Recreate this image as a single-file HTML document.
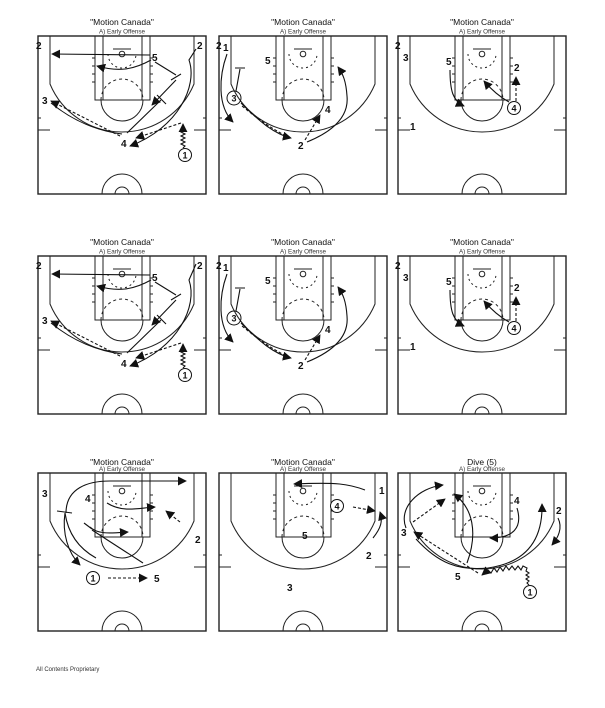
<!DOCTYPE html>
<html><head><meta charset="utf-8">
<style>
html,body{margin:0;padding:0;background:#fff;}
svg{display:block;}
.t{font-family:"Liberation Sans",sans-serif;font-size:8.5px;text-anchor:middle;fill:#111;}
.s{font-family:"Liberation Sans",sans-serif;font-size:6.3px;text-anchor:middle;fill:#333;}
.n{font-family:"Liberation Sans",sans-serif;font-size:10px;font-weight:bold;fill:#111;}
.c{font-family:"Liberation Sans",sans-serif;font-size:9px;font-weight:bold;fill:#111;text-anchor:middle;}
.p{fill:none;stroke:#111;stroke-width:1.1;}
.d{fill:none;stroke:#111;stroke-width:1.1;stroke-dasharray:3,2;}
</style></head><body>
<svg width="605" height="708" viewBox="0 0 605 708" xmlns="http://www.w3.org/2000/svg">
<defs>
<marker id="a" viewBox="0 0 10 10" refX="9" refY="5" markerWidth="9" markerHeight="9" markerUnits="userSpaceOnUse" orient="auto"><path d="M0,0 L10,5 L0,10 z" fill="#111"/></marker>
<g id="court" fill="none" stroke="#222" stroke-width="1">
<rect x="0" y="0" width="168" height="158" stroke-width="1.4"/>
<path d="M12,0 L12,48 A78,78 0 0 0 156,48 L156,0"/>
<rect x="57" y="0" width="55" height="64"/>
<path d="M65,0 L65,64 M104,0 L104,64"/>
<path d="M63,64 A21,21 0 0 0 105,64"/>
<path d="M63,64 A21,21 0 0 1 105,64" stroke-dasharray="3,3"/>
<path d="M75,13 L93,13"/>
<circle cx="84" cy="18" r="2.8"/>
<path d="M70,18 A14,14 0 0 0 98,18" stroke-dasharray="2,3"/>
<path d="M54,22 L57,22 M54,30 L57,30 M54,38 L57,38 M54,46 L57,46 M112,22 L115,22 M112,30 L115,30 M112,38 L115,38 M112,46 L115,46"/>
<path d="M0,94 L12,94 M156,94 L168,94 M0,82 L3,82 M165,82 L168,82"/>
<path d="M64,158 A20,20 0 0 1 104,158"/>
<path d="M77,158 A7,7 0 0 1 91,158"/>
</g>
</defs>

<!-- Titles -->
<text class="t" x="122" y="25">"Motion Canada"</text><text class="s" x="122" y="33.5">A) Early Offense</text>
<text class="t" x="303" y="25">"Motion Canada"</text><text class="s" x="303" y="33.5">A) Early Offense</text>
<text class="t" x="482" y="25">"Motion Canada"</text><text class="s" x="482" y="33.5">A) Early Offense</text>
<text class="t" x="122" y="245">"Motion Canada"</text><text class="s" x="122" y="253.5">A) Early Offense</text>
<text class="t" x="303" y="245">"Motion Canada"</text><text class="s" x="303" y="253.5">A) Early Offense</text>
<text class="t" x="482" y="245">"Motion Canada"</text><text class="s" x="482" y="253.5">A) Early Offense</text>
<text class="t" x="122" y="465">"Motion Canada"</text><text class="s" x="122" y="471">A) Early Offense</text>
<text class="t" x="303" y="465">"Motion Canada"</text><text class="s" x="303" y="471">A) Early Offense</text>
<text class="t" x="482" y="465">Dive (5)</text><text class="s" x="482" y="471">A) Early Offense</text>

<!-- Court 1 (row 1) -->
<g transform="translate(38,36)">
<use href="#court"/>
<path class="p" d="M112,19 L14,18" marker-end="url(#a)"/>
<path class="p" d="M113,24 C95,34 80,36 59,30" marker-end="url(#a)"/>
<path class="p" d="M158,13 L151,24 C160,50 140,92 92,110" marker-end="url(#a)"/>
<path class="p" d="M117,26 L138,39 M133,44 L143,38"/>
<path class="p" d="M138,44 L114,69" marker-end="url(#a)"/>
<path class="p" d="M89,97 L123,64 M119,59 L128,68"/>
<path class="d" d="M143,87 L98,102" marker-end="url(#a)"/>
<path class="d" d="M82,100 L13,65" marker-end="url(#a)"/>
<path class="p" d="M13,67 C35,85 60,95 84,98"/>
<polyline class="p" points="145,112 147,110 143,108 147,106 143,104 147,102 143,100 147,98 143,96 145,94 145,88" marker-end="url(#a)"/>
<text class="n" x="-2" y="13">2</text><text class="n" x="159" y="13">2</text>
<text class="n" x="114" y="25">5</text><text class="n" x="4" y="68">3</text><text class="n" x="83" y="111">4</text>
<circle cx="147" cy="119" r="6.5" fill="#fff" stroke="#111"/><text class="c" x="147" y="122.5">1</text>
</g>

<!-- Court 2 (row 1) -->
<g transform="translate(219,36)">
<use href="#court"/>
<path class="p" d="M8,18 C0,40 -2,70 14,86" marker-end="url(#a)"/>
<path class="p" d="M17,55 L21,33 M16,32 L26,32"/>
<path class="p" d="M22,67 C40,85 55,98 72,102" marker-end="url(#a)"/>
<path class="d" d="M23,70 C45,88 60,97 70,101"/>
<path class="d" d="M86,104 L101,79" marker-end="url(#a)"/>
<path class="p" d="M88,106 C115,95 130,80 128,60 C127,45 124,38 119,31" marker-end="url(#a)"/>
<text class="n" x="-3" y="13">2</text><text class="n" x="4" y="15" fill="#1a1a6e">1</text>
<text class="n" x="46" y="28">5</text><text class="n" x="106" y="77">4</text><text class="n" x="79" y="113">2</text>
<circle cx="15" cy="62" r="7" fill="none" stroke="#111"/><text class="c" x="15" y="65.5">3</text>
</g>

<!-- Court 3 (row 1) -->
<g transform="translate(398,36)">
<use href="#court"/>
<path class="p" d="M52,34 C52,55 55,65 66,70" marker-end="url(#a)"/>
<path class="p" d="M111,66 C100,60 92,52 86,45" marker-end="url(#a)"/>
<path class="d" d="M118,65 L118,41" marker-end="url(#a)"/>
<text class="n" x="-3" y="13">2</text><text class="n" x="5" y="25">3</text>
<text class="n" x="12" y="94" fill="#1a1a6e">1</text><text class="n" x="48" y="29">5</text><text class="n" x="116" y="35">2</text>
<circle cx="116" cy="72" r="6.5" fill="#fff" stroke="#111"/><text class="c" x="116" y="75.5">4</text>
</g>

<!-- Court 4 (row 2) -->
<g transform="translate(38,256)">
<use href="#court"/>
<path class="p" d="M112,19 L14,18" marker-end="url(#a)"/>
<path class="p" d="M113,24 C95,34 80,36 59,30" marker-end="url(#a)"/>
<path class="p" d="M158,8 L151,24 C160,50 140,92 92,110" marker-end="url(#a)"/>
<path class="p" d="M117,26 L138,39 M133,44 L143,38"/>
<path class="p" d="M138,44 L114,69" marker-end="url(#a)"/>
<path class="p" d="M89,97 L123,64 M119,59 L128,68"/>
<path class="d" d="M143,87 L98,102" marker-end="url(#a)"/>
<path class="d" d="M82,100 L13,65" marker-end="url(#a)"/>
<path class="p" d="M13,67 C35,85 60,95 84,98"/>
<polyline class="p" points="145,112 147,110 143,108 147,106 143,104 147,102 143,100 147,98 143,96 145,94 145,88" marker-end="url(#a)"/>
<text class="n" x="-2" y="13">2</text><text class="n" x="159" y="13">2</text>
<text class="n" x="114" y="25">5</text><text class="n" x="4" y="68">3</text><text class="n" x="83" y="111">4</text>
<circle cx="147" cy="119" r="6.5" fill="#fff" stroke="#111"/><text class="c" x="147" y="122.5">1</text>
</g>

<!-- Court 5 (row 2) -->
<g transform="translate(219,256)">
<use href="#court"/>
<path class="p" d="M8,18 C0,40 -2,70 14,86" marker-end="url(#a)"/>
<path class="p" d="M17,55 L21,33 M16,32 L26,32"/>
<path class="p" d="M22,67 C40,85 55,98 72,102" marker-end="url(#a)"/>
<path class="d" d="M23,70 C45,88 60,97 70,101"/>
<path class="d" d="M86,104 L101,79" marker-end="url(#a)"/>
<path class="p" d="M88,106 C115,95 130,80 128,60 C127,45 124,38 119,31" marker-end="url(#a)"/>
<text class="n" x="-3" y="13">2</text><text class="n" x="4" y="15" fill="#1a1a6e">1</text>
<text class="n" x="46" y="28">5</text><text class="n" x="106" y="77">4</text><text class="n" x="79" y="113">2</text>
<circle cx="15" cy="62" r="7" fill="none" stroke="#111"/><text class="c" x="15" y="65.5">3</text>
</g>

<!-- Court 6 (row 2) -->
<g transform="translate(398,256)">
<use href="#court"/>
<path class="p" d="M52,34 C52,55 55,65 66,70" marker-end="url(#a)"/>
<path class="p" d="M111,66 C100,60 92,52 86,45" marker-end="url(#a)"/>
<path class="d" d="M118,65 L118,41" marker-end="url(#a)"/>
<text class="n" x="-3" y="13">2</text><text class="n" x="5" y="25">3</text>
<text class="n" x="12" y="94" fill="#1a1a6e">1</text><text class="n" x="48" y="29">5</text><text class="n" x="116" y="35">2</text>
<circle cx="116" cy="72" r="6.5" fill="#fff" stroke="#111"/><text class="c" x="116" y="75.5">4</text>
</g>

<!-- Court 7 (row 3) -->
<g transform="translate(38,473)">
<use href="#court"/>
<path class="d" d="M70,105 L109,105" marker-end="url(#a)"/>
<path class="p" d="M28,40 C28,15 50,8 72,8 L148,8" marker-end="url(#a)"/>
<path class="p" d="M69,30 C85,40 100,35 117,34" marker-end="url(#a)"/>
<path class="d" d="M142,49 L128,38" marker-end="url(#a)"/>
<path class="p" d="M19,38 L34,40"/>
<path class="p" d="M27,40 C24,60 30,80 42,92" marker-end="url(#a)"/>
<path class="p" d="M27,40 C30,60 40,75 58,85"/>
<path class="p" d="M46,50 L54,56"/>
<path class="p" d="M52,54 C60,62 75,60 90,59" marker-end="url(#a)"/>
<path class="p" d="M54,57 L105,90"/>
<text class="n" x="4" y="24">3</text><text class="n" x="47" y="29">4</text><text class="n" x="157" y="70">2</text><text class="n" x="116" y="109">5</text>
<circle cx="55" cy="105" r="6.5" fill="#fff" stroke="#111"/><text class="c" x="55" y="108.5">1</text>
</g>

<!-- Court 8 (row 3) -->
<g transform="translate(219,473)">
<use href="#court"/>
<path class="p" d="M146,17 C130,11 118,9 75,11" marker-end="url(#a)"/>
<path class="d" d="M134,34 L156,38" marker-end="url(#a)"/>
<path class="p" d="M154,65 C162,55 164,48 161,39" marker-end="url(#a)"/>
<text class="n" x="160" y="21">1</text><text class="n" x="147" y="86">2</text>
<text class="n" x="83" y="66">5</text><text class="n" x="68" y="118">3</text>
<circle cx="118" cy="33" r="6.5" fill="#fff" stroke="#111"/><text class="c" x="118" y="36.5">4</text>
</g>

<!-- Court 9 (row 3) -->
<g transform="translate(398,473)">
<use href="#court"/>
<polyline class="p" points="131,112 129,110 131,108 128,106 131,104 128,102 131,100 128,98 129,95 125,93 123,97 120,93 117,97 114,93 111,97 108,93 105,98 102,94 99,99 96,95 93,100 90,97 84,102" marker-end="url(#a)"/>
<path class="d" d="M80,100 L16,59" marker-end="url(#a)"/>
<path class="d" d="M15,49 L47,26" marker-end="url(#a)"/>
<path class="p" d="M8,55 C0,35 20,15 45,12" marker-end="url(#a)"/>
<path class="p" d="M69,90 C80,60 75,35 56,21" marker-end="url(#a)"/>
<path class="p" d="M119,35 C125,55 115,65 92,65" marker-end="url(#a)"/>
<path class="p" d="M160,45 C165,55 160,65 154,72" marker-end="url(#a)"/>
<path class="p" d="M18,66 C40,90 60,98 90,95 C125,90 145,70 144,31" marker-end="url(#a)"/>
<text class="n" x="3" y="63">3</text><text class="n" x="116" y="31">4</text><text class="n" x="158" y="41">2</text><text class="n" x="57" y="107">5</text>
<circle cx="132" cy="119" r="6.5" fill="#fff" stroke="#111"/><text class="c" x="132" y="122.5">1</text>
</g>

<text x="36" y="671" style="font-family:'Liberation Sans',sans-serif;font-size:6px;fill:#333;">All Contents Proprietary</text>
</svg>
</body></html>
